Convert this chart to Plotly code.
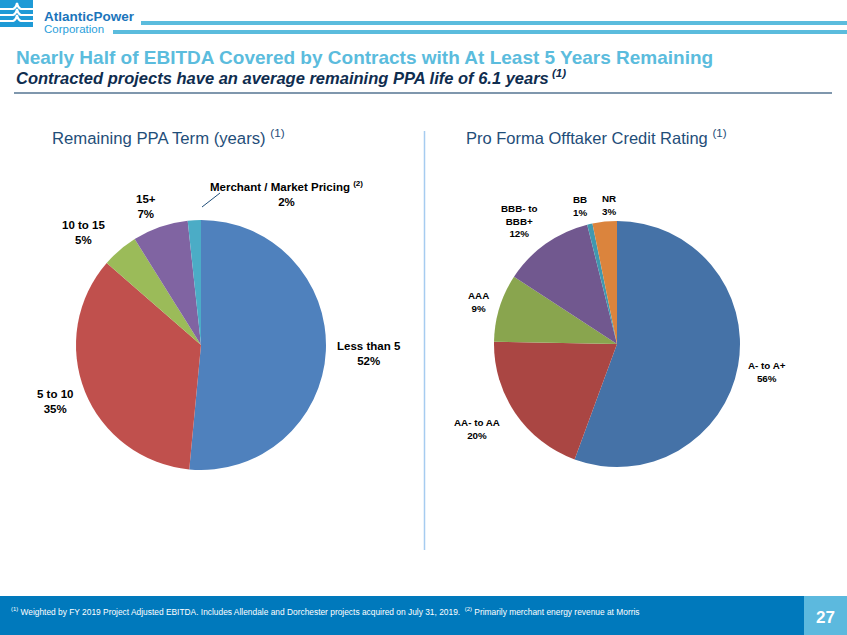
import plotly.graph_objects as go

W, H = 847, 635

# ---- data ----
term_labels = ["Less than 5", "5 to 10", "10 to 15", "15+", "Merchant / Market Pricing"]
term_values = [51.5, 34.9, 4.7, 7.2, 1.7]
term_pct_text = ["52%", "35%", "5%", "7%", "2%"]
term_colors = ["#4F81BD", "#C0504D", "#9BBB59", "#8064A2", "#4BACC6"]

rating_labels = ["A- to A+", "AA- to AA", "AAA", "BBB- to BBB+", "BB", "NR"]
rating_values = [55.6, 19.7, 8.9, 11.9, 0.7, 3.2]
rating_pct_text = ["56%", "20%", "9%", "12%", "1%", "3%"]
rating_colors = ["#4572A7", "#AA4643", "#89A54E", "#71588F", "#4198AF", "#DB843D"]

title = "Nearly Half of EBITDA Covered by Contracts with At Least 5 Years Remaining"
subtitle = "Contracted projects have an average remaining PPA life of 6.1 years"
footnote = ("<sup>(1)</sup> Weighted by FY 2019 Project Adjusted EBITDA. Includes Allendale and Dorchester "
            "projects acquired on July 31, 2019.  <sup>(2)</sup> Primarily merchant energy revenue at Morris")
page_no = "27"


def px(x):
    return x / W


def py(y):
    return 1 - y / H


FONT = "Arial, Liberation Sans, sans-serif"

fig = go.Figure()
fig.add_trace(go.Pie(
    labels=term_labels, values=term_values, sort=False, direction="clockwise", rotation=0,
    marker=dict(colors=term_colors, line=dict(width=0)), textinfo="none", hoverinfo="label+percent",
    domain=dict(x=[px(76), px(326)], y=[py(470), py(220)]), showlegend=False,
))
fig.add_trace(go.Pie(
    labels=rating_labels, values=rating_values, sort=False, direction="clockwise", rotation=0,
    marker=dict(colors=rating_colors, line=dict(width=0)), textinfo="none", hoverinfo="label+percent",
    domain=dict(x=[px(494), px(740)], y=[py(467), py(221)]), showlegend=False,
))

shapes = []
ann = []

# header logo
shapes.append(dict(type="rect", xref="paper", yref="paper", x0=px(0), x1=px(33), y0=py(27), y1=py(0),
                   fillcolor="#1E9AD6", line=dict(width=0), layer="above"))
for yy in [9, 15, 21]:
    shapes.append(dict(type="path", xref="paper", yref="paper",
                       path=f"M {px(0)} {py(yy)} L {px(13)} {py(yy)} Q {px(16)} {py(yy-1)} {px(17)} {py(yy-6)} "
                            f"Q {px(18)} {py(yy-1)} {px(21)} {py(yy)} L {px(33)} {py(yy)}",
                       line=dict(color="white", width=2.2), layer="above"))
ann.append(dict(text="<b>AtlanticPower</b>", x=px(42), y=py(16), xanchor="left", yanchor="middle",
                font=dict(size=13.5, color="#1B75BB", family=FONT)))
ann.append(dict(text="Corporation", x=px(42), y=py(29), xanchor="left", yanchor="middle",
                font=dict(size=11.5, color="#2A9FDB", family=FONT)))
shapes.append(dict(type="line", xref="paper", yref="paper", x0=px(141), x1=px(847), y0=py(23), y1=py(23),
                   line=dict(color="#5BBCDD", width=4)))
shapes.append(dict(type="line", xref="paper", yref="paper", x0=px(113), x1=px(847), y0=py(32), y1=py(32),
                   line=dict(color="#5BBCDD", width=4)))

# titles
ann.append(dict(text=f"<b>{title}</b>", x=px(14), y=py(57), xanchor="left", yanchor="middle",
                font=dict(size=19, color="#5BBCDD", family=FONT)))
ann.append(dict(text=f"<b><i>{subtitle}<sup> (1)</sup></i></b>", x=px(14), y=py(77), xanchor="left",
                yanchor="middle", font=dict(size=16.5, color="#0F2D4F", family=FONT)))
shapes.append(dict(type="line", xref="paper", yref="paper", x0=px(14), x1=px(832), y0=py(93), y1=py(93),
                   line=dict(color="#7F97AD", width=2)))

# section headers
ann.append(dict(text="Remaining PPA Term (years) <sup>(1)</sup>", x=px(50), y=py(137), xanchor="left",
                yanchor="middle", font=dict(size=16.7, color="#1F4E79", family=FONT)))
ann.append(dict(text="Pro Forma Offtaker Credit Rating <sup>(1)</sup>", x=px(464), y=py(137), xanchor="left",
                yanchor="middle", font=dict(size=16.5, color="#1F4E79", family=FONT)))
shapes.append(dict(type="line", xref="paper", yref="paper", x0=px(424.5), x1=px(424.5), y0=py(131), y1=py(550),
                   line=dict(color="#A6CCF0", width=1.5)))

# left pie labels
left_pos = [(369, 353), (55, 401), (83, 233), (146, 207), (286, 193)]
for i, (lx, ly) in enumerate(left_pos):
    name = term_labels[i]
    if i == 4:
        name = name + " <sup>(2)</sup>"
    ann.append(dict(text=f"<b>{name}<br>{term_pct_text[i]}</b>", x=px(lx), y=py(ly), xanchor="center",
                    yanchor="middle", font=dict(size=11.5, color="black", family=FONT)))
shapes.append(dict(type="line", xref="paper", yref="paper", x0=px(202), x1=px(220), y0=py(207), y1=py(193),
                   line=dict(color="#1F4E79", width=1)))

# right pie labels
right_text = ["A- to A+", "AA- to AA", "AAA", "BBB- to<br>BBB+", "BB", "NR"]
right_pos = [(767, 372), (477, 429), (478, 302), (519, 221), (580, 206), (609, 205)]
for i, (lx, ly) in enumerate(right_pos):
    ann.append(dict(text=f"<b>{right_text[i]}<br>{rating_pct_text[i]}</b>", x=px(lx), y=py(ly),
                    xanchor="center", yanchor="middle",
                    font=dict(size=9.8, color="black", family=FONT)))

# footer
shapes.append(dict(type="rect", xref="paper", yref="paper", x0=px(0), x1=px(804), y0=py(635), y1=py(596),
                   fillcolor="#0079BC", line=dict(width=0)))
shapes.append(dict(type="rect", xref="paper", yref="paper", x0=px(804), x1=px(847), y0=py(635), y1=py(596),
                   fillcolor="#5CB9DE", line=dict(width=0)))
ann.append(dict(text=footnote, x=px(9), y=py(611), xanchor="left", yanchor="middle",
                font=dict(size=8.4, color="white", family=FONT)))
ann.append(dict(text=f"<b>{page_no}</b>", x=px(825), y=py(617), xanchor="center", yanchor="middle",
                font=dict(size=17, color="white", family=FONT)))

for a in ann:
    a.update(xref="paper", yref="paper", showarrow=False)

fig.update_layout(
    width=W, height=H, margin=dict(l=0, r=0, t=0, b=0),
    paper_bgcolor="white", plot_bgcolor="white",
    shapes=shapes, annotations=ann, showlegend=False,
)

fig.write_html("out.html", config={"displayModeBar": False},
               post_script="document.body.style.margin='0';document.body.style.overflow='hidden';")
